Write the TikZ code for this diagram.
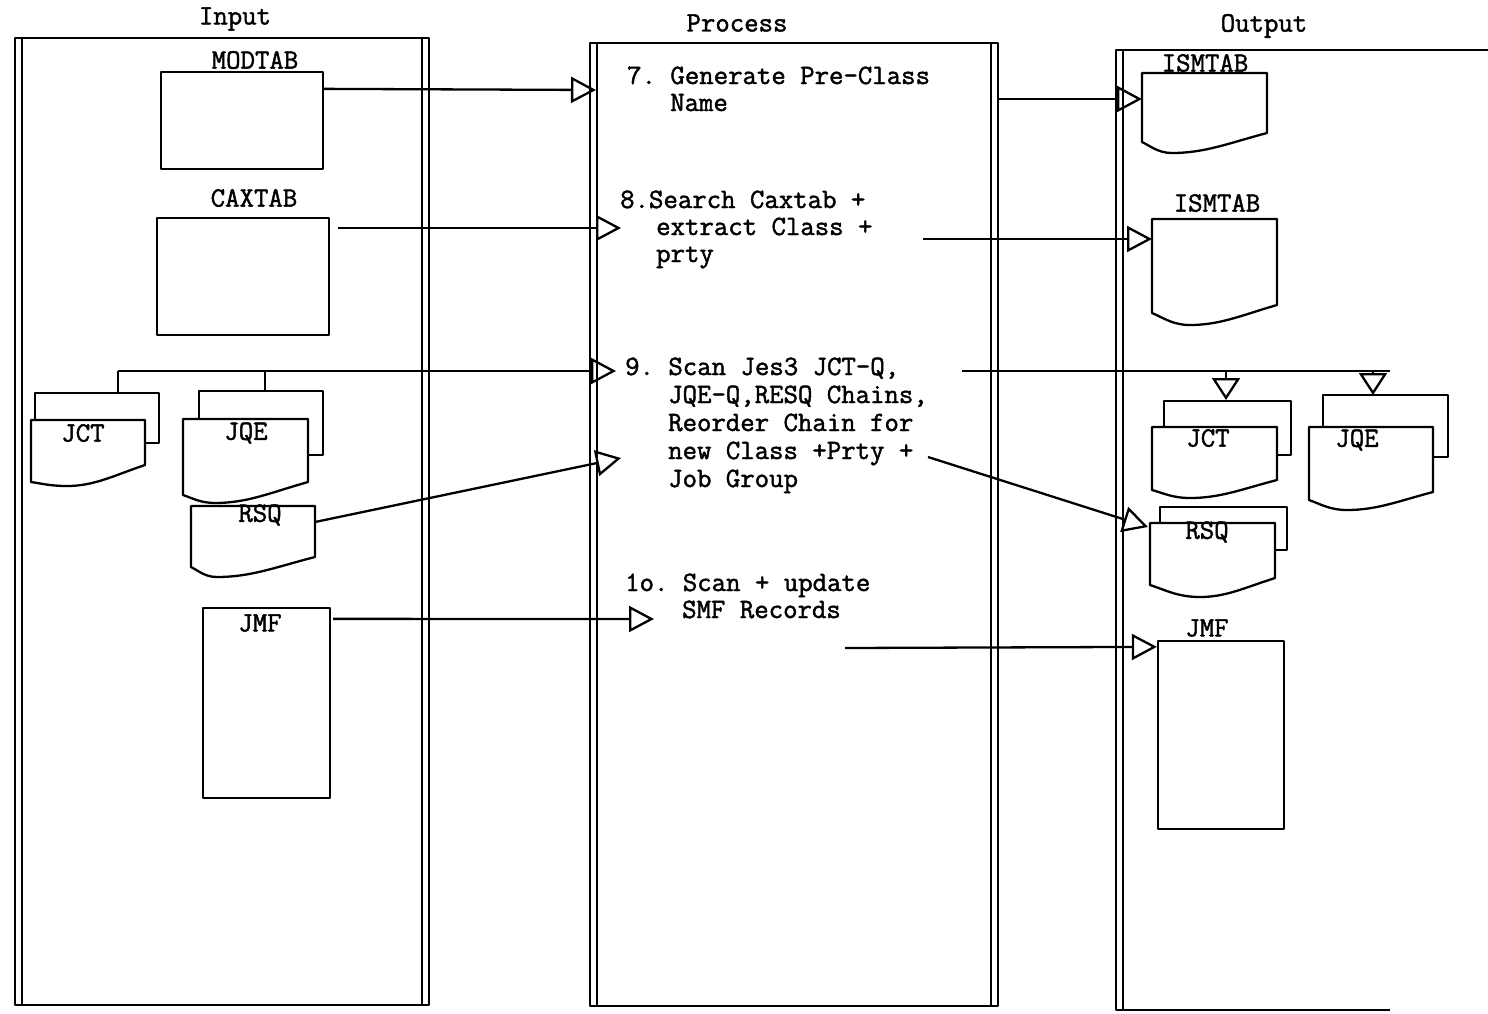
\documentclass[tikz,border=0pt]{standalone}
\usepackage{fontspec}
\newfontfamily\tyfont{Latin Modern Mono}[FakeBold=1.6]
\usetikzlibrary{arrows.meta}
\newcommand\tyf{\tyfont\frenchspacing\fontsize{28}{27}\selectfont}
\tikzset{
  ln/.style={line width=2.3pt, line join=round},
  box/.style={draw, ln, fill=white, inner sep=0pt},
  lbl/.style={font=\tyf, inner sep=0pt},
  ptext/.style={anchor=base west, align=left, inner sep=0pt},
  flow/.style={ln, -{Triangle[open, length=25pt, width=26pt, line width=2.3pt]}},
  drop/.style={ln, -{Triangle[open, length=22pt, width=28pt, line width=2.3pt]}},
}
% document shape: x1,y1,x2,yr,yl,xd,yd
\newcommand\docshape[7]{%
  \pgfmathsetmacro\docAx{#3-0.4*(#3-#6)}%
  \pgfmathsetmacro\docAy{#4+0.5*(#7-#4)}%
  \pgfmathsetmacro\docBx{#6+0.35*(#3-#6)}%
  \pgfmathsetmacro\docCx{#6-0.45*(#6-#1)}%
  \pgfmathsetmacro\docDx{#1+0.3*(#6-#1)}%
  \pgfmathsetmacro\docDy{#5+0.4*(#7-#5)}%
  \draw[ln, fill=white] (#1,#5) -- (#1,#2) -- (#3,#2) -- (#3,#4)
    .. controls (\docAx,\docAy) and (\docBx,#7) .. (#6,#7)
    .. controls (\docCx,#7) and (\docDx,\docDy) .. (#1,#5) -- cycle;
}
\begin{document}
\begin{tikzpicture}[x=1pt, y=-1pt]
\useasboundingbox (0,0) rectangle (1488,1013);

% ---- lanes ----
\draw[ln] (15,38) rectangle (429,1005);
\draw[ln] (22,38) -- (22,1005);
\draw[ln] (422,38) -- (422,1005);
\draw[ln] (590,43) rectangle (998,1006);
\draw[ln] (597,43) -- (597,1006);
\draw[ln] (991,43) -- (991,1006);
\draw[ln] (1488,50) -- (1116,50) -- (1116,1010) -- (1390,1010);
\draw[ln] (1123,50) -- (1123,1010);

\node[lbl] (tin) at (235,19) {Input};
\node[lbl] (tproc) at (737,23) {Process};
\node[lbl] (tout) at (1264,26) {Output};

% ---- input side ----
\node[lbl] (lmod) at (255,60) {MODTAB};
\node[box, minimum width=162pt, minimum height=97pt] (modtab) at (242,120.5) {};
\node[lbl] (lcax) at (254,198) {CAXTAB};
\node[box, minimum width=172pt, minimum height=117pt] (caxtab) at (243,276.5) {};

% JCT (input)
\draw[ln, fill=white] (35,393) rectangle (159,443);
\docshape{31}{420}{145}{465}{482}{67}{486}
\node[lbl] (ljct) at (83,433) {JCT};
% JQE (input)
\draw[ln, fill=white] (199,391) rectangle (323,455);
\docshape{183}{419}{308}{482}{495}{215}{503}
\node[lbl] (ljqe) at (246,433) {JQE};
% RSQ (input)
\docshape{191}{506}{315}{557}{567}{217}{577}
\node[lbl] (lrsq) at (260,515) {RSQ};
\coordinate (rsqin) at (315,522);
% JMF (input)
\node[box, minimum width=127pt, minimum height=190pt] (jmfin) at (266.5,703) {};
\node[lbl] (ljmf) at (260,623) {JMF};

% bracket joining JCT and JQE
\coordinate (brl) at (118,371);
\coordinate (brr) at (265,371);
\coordinate (jctintop) at (118,393);
\coordinate (jqeintop) at (265,391);
\draw[ln] (jctintop) -- (brl);
\draw[ln] (jqeintop) -- (brr);

% ---- process texts (anchored at baseline of last line) ----
\node[ptext, font={\tyfont\frenchspacing\fontsize{28}{27}\selectfont}] (p7) at (627,111)
  {7. Generate Pre-Class\\\hspace*{43pt}Name};
\node[ptext, font={\tyfont\frenchspacing\fontsize{28}{27}\selectfont}] (p8) at (620,262)
  {8.Search Caxtab +\\\hspace*{36pt}extract Class +\\\hspace*{36pt}prty};
\node[ptext, font={\tyfont\frenchspacing\fontsize{28}{28}\selectfont}] (p9) at (625,487)
  {9. Scan Jes3 JCT-Q,\\\hspace*{43pt}JQE-Q,RESQ Chains,\\\hspace*{43pt}Reorder Chain for\\\hspace*{43pt}new Class +Prty +\\\hspace*{43pt}Job Group};
\node[ptext, font={\tyfont\frenchspacing\fontsize{28}{27}\selectfont}] (p10) at (625,618)
  {1o. Scan + update\\\hspace*{57pt}SMF Records};

% ---- output side ----
\node[lbl] (lism1) at (1205,63) {ISMTAB};
\docshape{1142}{73}{1267}{133}{142}{1172}{153}
\coordinate (ism1) at (1142,99);
\node[lbl] (lism2) at (1217,203) {ISMTAB};
\docshape{1152}{219}{1277}{305}{313}{1190}{325}
\coordinate (ism2) at (1152,239);

% JCT (output)
\draw[ln, fill=white] (1164,401) rectangle (1291,455);
\docshape{1152}{427}{1277}{480}{490}{1190}{498}
\node[lbl] (ljcto) at (1208,438) {JCT};
\coordinate (jctout) at (1226,400);
% JQE (output)
\draw[ln, fill=white] (1323,395) rectangle (1448,457);
\docshape{1309}{427}{1433}{492}{500}{1347}{510}
\node[lbl] (ljqeo) at (1357,440) {JQE};
\coordinate (jqeout) at (1373,395);
% RSQ (output)
\draw[ln, fill=white] (1160,507) rectangle (1287,550);
\docshape{1150}{523}{1275}{578}{585}{1200}{597}
\node[lbl] (lrsqo) at (1207,532) {RSQ};
\coordinate (rsqout) at (1148,527);
% JMF (output)
\node[lbl] (ljmfo) at (1207,628) {JMF};
\node[box, minimum width=126pt, minimum height=188pt] (jmfout) at (1221,735) {};

% ---- connectors: input -> process ----
\coordinate (p7in) at (596,90);
\coordinate (p8in) at (621,228);
\coordinate (p9in) at (616,371);
\coordinate (p9in2) at (621,458);
\coordinate (p10in) at (654,619);
\coordinate (caxout) at (338,228);
\draw[flow] ([yshift=-18pt]modtab.north east) -- (p7in);
\draw[flow] (caxout) -- (p8in);
\draw[flow] (brl) -- (p9in);
\draw[flow] (rsqin) -- (p9in2);
\draw[flow] ([yshift=-12pt,xshift=2pt]jmfin.north east) -- (p10in);

% ---- connectors: process -> output ----
\coordinate (p7out) at (998,99);
\coordinate (p8out) at (923,239);
\coordinate (p9out) at (962,371);
\coordinate (p9end) at (1390,371);
\coordinate (jctdrop) at (1226,371);
\coordinate (jqedrop) at (1373,371);
\coordinate (p9out2) at (928,457);
\coordinate (p10out) at (845,648);
\draw[flow] (p7out) -- (ism1);
\draw[flow] (p8out) -- (ism2);
\draw[ln] (p9out) -- (p9end);
\draw[drop] (jctdrop) -- (jctout);
\draw[drop] (jqedrop) -- (jqeout);
\draw[flow] (p9out2) -- (rsqout);
\draw[flow] (p10out) -- ([yshift=-7pt]jmfout.north west);
\end{tikzpicture}
\end{document}
